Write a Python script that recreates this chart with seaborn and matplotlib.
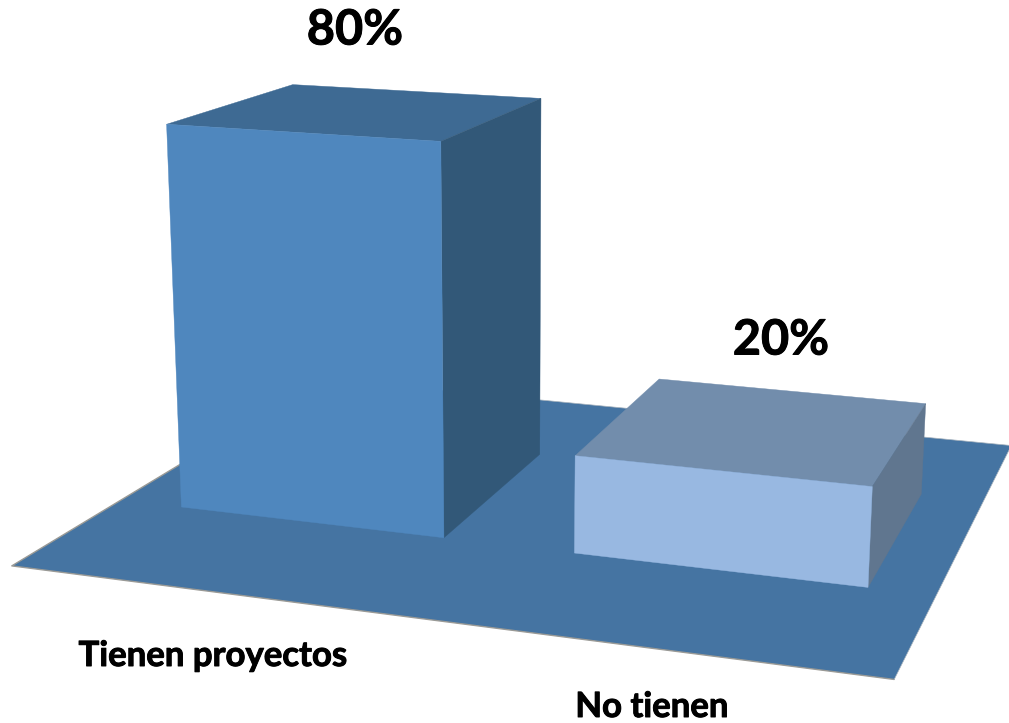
import numpy as np
import seaborn as sns
import matplotlib.pyplot as plt
import matplotlib.patheffects as pe
from matplotlib.patches import Polygon
from matplotlib.transforms import Transform

categories = ['Tienen proyectos', 'No tienen']
values = [80, 20]
value_labels = ['80%', '20%']

front_colors = ['#4F87BE', '#98B8E1']
top_colors = ['#3E6A93', '#728DAC']
side_colors = ['#325878', '#60768F']
floor_color = '#4574A2'

bar_width = 0.68
bar_depth = 0.68

# camera matrix: (category x, depth, percent, 1) -> homogeneous pixel position
CAMERA = np.array([
    [362.35, 227.0, -0.2749, 304.6],
    [16.5, -41.5, -4.851, 512.6],
    [-0.0534, 0.169, -0.000539, 0.98184],
])


def project(x, d, z):
    pts = CAMERA @ np.array([x, d, z, 1.0])
    return pts[:2] / pts[2]


class FrontPlane(Transform):
    # maps seaborn's (x, value) bars onto the front plane of the 3D scene
    input_dims = 2
    output_dims = 2

    def transform_non_affine(self, values):
        values = np.asarray(values, dtype=float)
        return np.array([project(x, 0, z) for x, z in values])


sns.set_theme(style='white')
plt.rcParams['font.family'] = ['Lato', 'DejaVu Sans']

fig = plt.figure(figsize=(10.09, 7.23), dpi=100)
ax = fig.add_axes([0, 0, 1, 1])

sns.barplot(x=categories, y=values, hue=categories, palette=front_colors,
            width=bar_width, legend=False, saturation=1, ax=ax)

# the axes work in pixels, the bars go through the projection
ax.set_xlim(0, 1009)
ax.set_ylim(723, 0)
ax.set_axis_off()

# floor, the near edges carry a grey line
floor = np.array([project(-0.506, -0.486, 0), project(1.488, -0.486, 0),
                  project(1.497, 1.16, 0), project(-0.497, 1.16, 0)])
ax.add_patch(Polygon(floor, closed=True, facecolor=floor_color, edgecolor='none', zorder=0))
ax.plot(floor[[3, 0, 1], 0], floor[[3, 0, 1], 1], color='#9A9A96', lw=1.0, zorder=1)
ax.plot(floor[[1, 2, 3], 0], floor[[1, 2, 3], 1], color='#A9B4BE', lw=0.5, zorder=1)

to_pixels = FrontPlane() + ax.transData
for i, bar in enumerate(ax.patches[:len(values)]):
    x0 = bar.get_x()
    x1 = x0 + bar.get_width()
    h = bar.get_height()
    bar.set_transform(to_pixels)
    bar.set_zorder(3)
    bar.set_edgecolor(front_colors[i])
    bar.set_linewidth(0.3)

    top = [project(x0, 0, h), project(x1, 0, h), project(x1, bar_depth, h), project(x0, bar_depth, h)]
    side = [project(x1, 0, 0), project(x1, 0, h), project(x1, bar_depth, h), project(x1, bar_depth, 0)]
    ax.add_patch(Polygon(top, closed=True, facecolor=top_colors[i], edgecolor=top_colors[i],
                         linewidth=0.3, zorder=2))
    ax.add_patch(Polygon(side, closed=True, facecolor=side_colors[i], edgecolor=side_colors[i],
                         linewidth=0.3, zorder=2.5))

heavy = [pe.withStroke(linewidth=0.7, foreground='black')]

# value labels
ax.text(355, 30, value_labels[0], ha='center', va='center', fontsize=35, fontweight='bold',
        color='black', path_effects=heavy)
ax.text(781, 340, value_labels[1], ha='center', va='center', fontsize=35, fontweight='bold',
        color='black', path_effects=heavy)

# category labels
ax.text(213, 656, categories[0], ha='center', va='center', fontsize=25, fontweight='bold',
        color='black', path_effects=heavy)
ax.text(652, 707, categories[1], ha='center', va='center', fontsize=25, fontweight='bold',
        color='black', path_effects=heavy)

fig.savefig('out.png', dpi=100)
